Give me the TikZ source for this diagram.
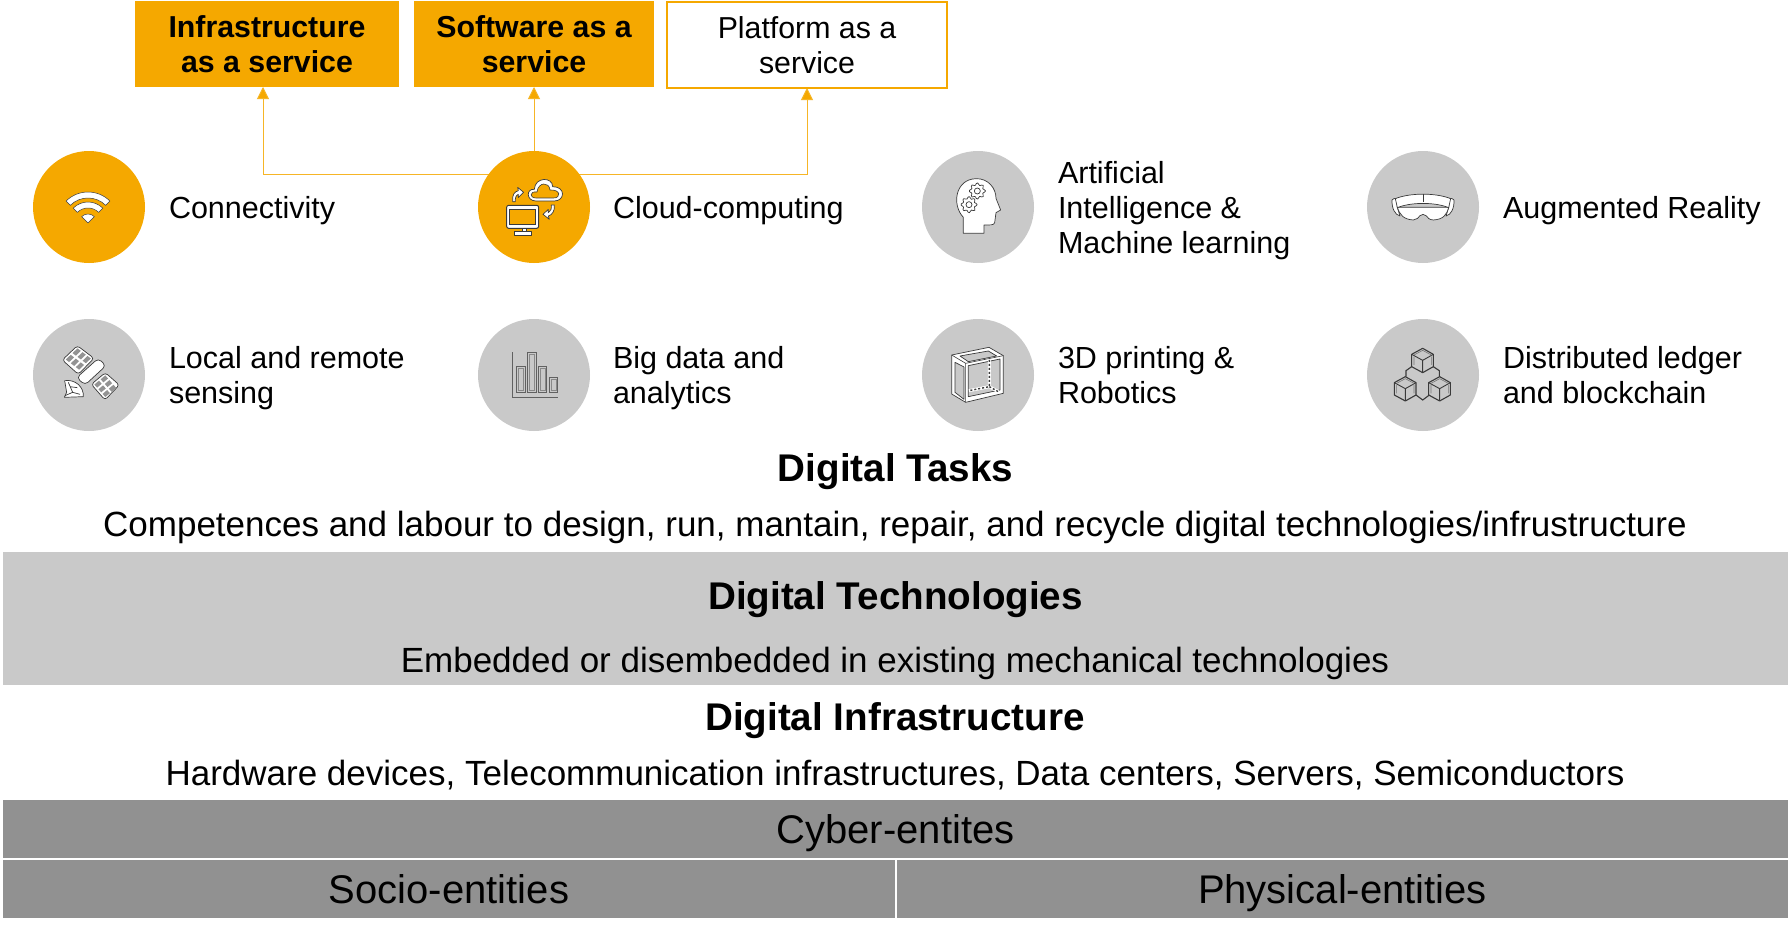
\documentclass[tikz,border=0pt]{standalone}
\usepackage{fontspec}
\setmainfont{Liberation Sans}
\usetikzlibrary{arrows.meta,backgrounds}
\definecolor{orng}{HTML}{F5A800}
\definecolor{lgray}{HTML}{C9C9C9}
\definecolor{mgray}{HTML}{919191}
\definecolor{ink}{HTML}{3A3A3A}
\tikzset{
  base/.style={inner sep=0pt,outer sep=0pt,text=black},
  box/.style={base,minimum height=86pt,align=center,font=\fontsize{30.3}{35}\selectfont},
  onbox/.style={box,fill=orng,font=\fontsize{30.3}{35}\selectfont\bfseries},
  offbox/.style={box,fill=white,draw=orng,line width=1.6pt},
  dot/.style={base,circle,minimum size=112pt},
  ondot/.style={dot,fill=orng},
  offdot/.style={dot,fill=lgray},
  lab/.style={base,anchor=west,align=left,font=\fontsize{30.5}{35}\selectfont},
  head/.style={base,font=\fontsize{38.6}{44}\selectfont\bfseries},
  sub/.style={base,font=\fontsize{35}{40}\selectfont},
  band/.style={base,text height=29pt,text depth=0pt,font=\fontsize{40}{44}\selectfont},
  link/.style={draw=orng!85,line width=.9pt,-{Triangle[length=12pt,width=12pt,fill=orng]}},
  ic/.style={draw=ink,line width=.7pt,fill=white,line join=round},
  icl/.style={draw=ink,line width=.7pt,line join=round},
}
\begin{document}
\begin{tikzpicture}[x=1pt,y=-1pt]
\useasboundingbox (0,0) rectangle (1791,934);
% boxes
\node[onbox,minimum width=264pt] (infra) at (267,44) {Infrastructure\\as a service};
\node[onbox,minimum width=240pt] (soft) at (534,44) {Software as a\\service};
\node[offbox,minimum width=280pt] (plat) at (807,45) {Platform as a\\service};
% circles
\node[ondot] (conn) at (89,207) {};
\node[ondot] (cloud) at (534,207) {};
\node[offdot] (ai) at (978,207) {};
\node[offdot] (ar) at (1423,207) {};
\node[offdot] (sens) at (89,375) {};
\node[offdot] (big) at (534,375) {};
\node[offdot] (print) at (978,375) {};
\node[offdot] (ledger) at (1423,375) {};
% labels
\node[lab] (l1) at (169,211) {Connectivity\strut};
\node[lab] (l2) at (613,211) {Cloud-computing\strut};
\node[lab] (l3) at (1058,211.5) {Artificial\strut\\Intelligence \&\strut\\Machine learning\strut};
\node[lab] (l4) at (1503,211) {Augmented Reality\strut};
\node[lab] (l5) at (169,379) {Local and remote\strut\\sensing\strut};
\node[lab] (l6) at (613,379) {Big data and\strut\\analytics\strut};
\node[lab] (l7) at (1058,379) {3D printing \&\strut\\Robotics\strut};
\node[lab] (l8) at (1503,379) {Distributed ledger\strut\\and blockchain\strut};
% connectors
\begin{scope}[on background layer]
\fill[white] (0,0) rectangle (1791,934);
\draw[link] (cloud.144) -| ([xshift=-4pt]infra.south);
\draw[link] (cloud.north) -- (soft.south);
\draw[link] (cloud.36) -| (plat.south);
\end{scope}
% layers
\node[head] (tasks) at (895.5,471.5) {Digital Tasks};
\node[sub] (tasksub) at (895,527) {Competences and labour to design, run, mantain, repair, and recycle digital technologies/infrustructure};
\node[base,fill=lgray,minimum width=1785pt,minimum height=133pt] (techband) at (895.5,618.5) {};
\node[head] (tech) at (895.5,599.5) {Digital Technologies};
\node[sub] (techsub) at (895,663.5) {Embedded or disembedded in existing mechanical technologies};
\node[head] (infr) at (895,720.5) {Digital Infrastructure};
\node[sub] (infrsub) at (895,775) {Hardware devices, Telecommunication infrastructures, Data centers, Servers, Semiconductors};
\node[band,fill=mgray,minimum width=1785pt,minimum height=58pt] (cyber) at (895.5,829) {Cyber-entites};
\node[band,fill=mgray,minimum width=892pt,minimum height=58pt] (socio) at (449,889) {Socio-entities};
\node[band,fill=mgray,minimum width=891pt,minimum height=58pt] (phys) at (1342.5,889) {Physical-entities};
% wifi icon
\begin{scope}[shift={(88,223)}]
\foreach \a/\b in {31/25,21/15}{
  \draw[ic,draw=ink,line width=.5pt] (-135:\a) arc[start angle=-135,end angle=-45,radius=\a] -- (-45:\b) arc[start angle=-45,end angle=-135,radius=\b] -- cycle;
}
\draw[ic,line width=.5pt] (0,0) -- (-135:9) arc[start angle=-135,end angle=-45,radius=9] -- cycle;
\end{scope}
% cloud icon
\begin{scope}[shift={(461,130)},x=.3333pt,y=-.3333pt]
\draw[ic,rounded corners=2pt,line width=1pt] (137,226) rectangle (233,295);
\draw[draw=ink,line width=.6pt,fill=orng] (146,238) rectangle (224,283);
\draw[ic] (183,295) rectangle (195,305);
\draw[ic] (160,305) rectangle (212,316);
\draw[ic] (225,213) .. controls (195,213) and (195,175) .. (220,178)
  .. controls (222,140) and (275,140) .. (275,170)
  .. controls (315,170) and (312,213) .. (280,213) -- cycle;
\draw[draw=ink,line width=.6pt,fill=orng] (225,204) .. controls (205,204) and (205,183) .. (228,186)
  .. controls (232,155) and (265,155) .. (267,180)
  .. controls (300,178) and (300,204) .. (278,204) -- cycle;
\draw[ic] (155,215) .. controls (153,195) and (160,185) .. (172,182) -- (170,172) -- (188,187) -- (172,203) -- (172,193) .. controls (165,195) and (162,205) .. (163,215) -- cycle;
\draw[ic] (280,225) .. controls (282,245) and (272,255) .. (262,258) -- (265,268) -- (246,253) -- (262,238) -- (262,248) .. controls (270,245) and (272,235) .. (271,225) -- cycle;
\end{scope}
% head icon
\begin{scope}[shift={(900,130)},x=.3333pt,y=-.3333pt]
\draw[ic] (190,310) -- (190,262) .. controls (155,225) and (165,148) .. (228,146)
  .. controls (265,145) and (288,175) .. (288,205)
  -- (302,240) -- (288,248) -- (284,278) .. controls (282,286) and (270,285) .. (252,285) -- (252,310) -- cycle;
\foreach \cx/\cy in {232/183,207/224}{
  \begin{scope}[shift={(\cx,\cy)}]
  \draw[ic] plot[smooth cycle,samples=33,domain=0:348.75] (\x:{21+3.5*cos(8*\x)});
  \draw[ic] (0,0) circle[radius=9];
  \end{scope}
}
\end{scope}
% goggles icon
\begin{scope}[shift={(1350,130)},x=.3333pt,y=-.3333pt]
\draw[ic] (126,210) .. controls (130,204) and (135,205) .. (142,205) -- (142,232) -- (150,258) .. controls (135,255) and (125,235) .. (126,210) -- cycle;
\draw[ic] (312,210) .. controls (308,204) and (303,205) .. (296,205) -- (296,232) -- (288,258) .. controls (303,255) and (313,235) .. (312,210) -- cycle;
\draw[ic] (142,232) .. controls (150,255) and (160,268) .. (190,270) .. controls (200,270) and (206,262) .. (210,257) .. controls (216,252) and (222,252) .. (228,257) .. controls (232,262) and (238,270) .. (250,270) .. controls (280,268) and (290,255) .. (296,232) -- cycle;
\draw[ic] (136,206) .. controls (180,188) and (258,188) .. (302,206) -- (296,233) .. controls (255,216) and (183,216) .. (142,233) -- cycle;
\draw[icl,line width=.4pt] (219,192) -- (219,216);
\end{scope}
% satellite icon
\begin{scope}[shift={(20,305)},x=.3333pt,y=-.3333pt]
\draw[ic,rounded corners=3pt] (127,165) -- (172,122) -- (222,160) -- (175,208) -- cycle;
\foreach \u in {.1,.4,.7}{\foreach \v in {.12,.57}{
  \fill[gray!85] ({127+45*\v+50*\u},{165-43*\v+38*\u}) -- ({127+45*(\v+.33)+50*\u},{165-43*(\v+.33)+38*\u}) -- ({127+45*(\v+.33)+50*(\u+.2)},{165-43*(\v+.33)+38*(\u+.2)}) -- ({127+45*\v+50*(\u+.2)},{165-43*\v+38*(\u+.2)}) -- cycle;
}}
\draw[ic,rounded corners=3pt] (214,238) -- (256,203) -- (298,240) -- (255,285) -- cycle;
\foreach \u in {.1,.4,.7}{\foreach \v in {.12,.57}{
  \fill[gray!85] ({214+42*\v+41*\u},{238-35*\v+47*\u}) -- ({214+42*(\v+.33)+41*\u},{238-35*(\v+.33)+47*\u}) -- ({214+42*(\v+.33)+41*(\u+.2)},{238-35*(\v+.33)+47*(\u+.2)}) -- ({214+42*\v+41*(\u+.2)},{238-35*\v+47*(\u+.2)}) -- cycle;
}}
\draw[ic,rounded corners=4pt] (170,218) -- (235,160) -- (258,182) -- (195,240) -- cycle;
\draw[ic] (134,227) .. controls (165,222) and (192,245) .. (190,275) -- (133,277) -- (140,262) -- cycle;
\draw[icl] (145,232) -- (158,262) -- (180,268) (158,262) -- (135,272) (150,245) -- (172,248);
\end{scope}
% bars icon
\begin{scope}[shift={(461,305)},x=.3333pt,y=-.3333pt]
\draw[draw=ink!80,line width=1pt] (153,142) -- (153,277) -- (290,277);
\foreach \a/\b/\c/\d in {167/185/192/262,200/143/225/262,232/185/257/262,265/217/290/262}{
  \draw[draw=ink!80,line width=.9pt] (\a,\b) rectangle (\c,\d);
  \draw[draw=ink!60,line width=.6pt] (\a+5,\b+5) rectangle (\c-5,\d-5);
}
\end{scope}
% 3D box icon
\begin{scope}[shift={(900,305)},x=.3333pt,y=-.3333pt]
\draw[ic] (155,150) -- (267,127) -- (310,152) -- (310,265) -- (197,292) -- (155,267) -- cycle;
\fill[lgray] (205,182) -- (300,162) -- (300,255) -- (205,275) -- cycle;
\fill[lgray] (165,172) -- (192,186) -- (192,283) -- (165,262) -- cycle;
\fill[lgray] (180,153) -- (265,138) -- (290,153) -- (205,170) -- cycle;
\draw[icl] (205,182) -- (300,162) -- (300,255) -- (205,275) -- cycle;
\draw[icl] (165,172) -- (192,186) -- (192,283) -- (165,262) -- cycle;
\draw[icl] (180,153) -- (265,138) -- (290,153) -- (205,170) -- cycle;
\draw[icl,line width=.6pt] (155,150) -- (197,175) -- (310,152) (197,175) -- (197,292);
\draw[draw=white,line width=3pt] (268,165) -- (268,245) -- (207,257) (268,245) -- (295,260);
\draw[draw=ink,line width=1.4pt,dash pattern=on 2pt off 2pt] (268,165) -- (268,245) -- (207,257) (268,245) -- (295,260);
\end{scope}
% blocks icon
\begin{scope}[shift={(1350,305)},x=.3333pt,y=-.3333pt]
\draw[draw=ink,line width=1.1pt] (185,185) -- (168,197) -- (168,215) (250,185) -- (268,197) -- (268,215) (198,270) -- (218,285) -- (238,270);
\foreach \dx/\dy in {0/0,-52/85,51/85}{
  \begin{scope}[xshift={\dx*.3333pt},yshift={-\dy*.3333pt}]
  \draw[draw=ink,line width=1.1pt,line join=round] (218,130) -- (250,148) -- (250,185) -- (218,203) -- (185,185) -- (185,148) -- cycle;
  \draw[draw=ink,line width=.9pt] (185,148) -- (218,166) -- (250,148) (218,166) -- (218,203);
  \draw[draw=ink!70,line width=.6pt] (192,150) -- (218,136) -- (244,150) (192,180) -- (192,155) (244,180) -- (244,155);
  \end{scope}
}
\end{scope}
\end{tikzpicture}
\end{document}
